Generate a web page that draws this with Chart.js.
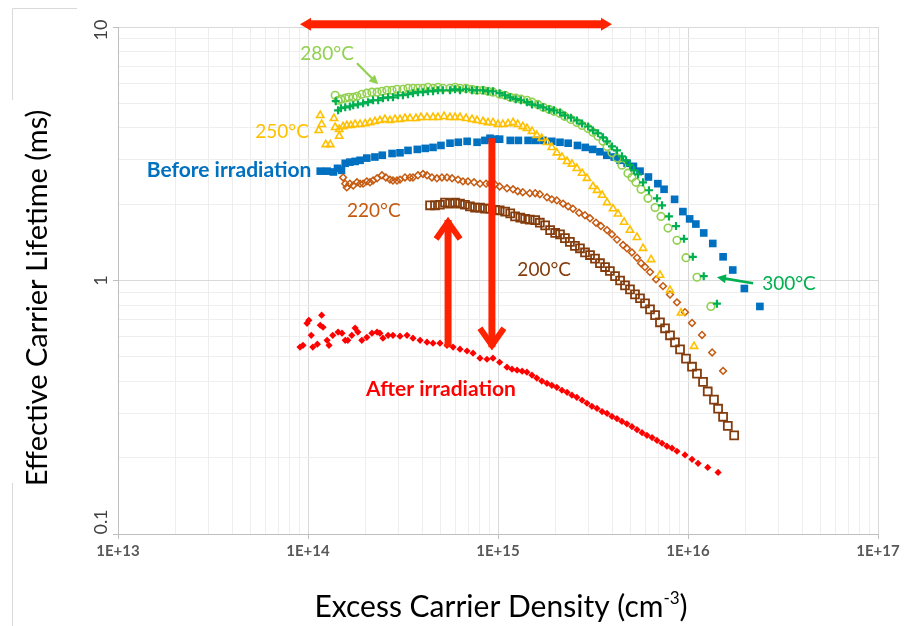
<!DOCTYPE html>
<html><head><meta charset="utf-8">
<script src="https://cdn.jsdelivr.net/npm/chart.js@4.4.1/dist/chart.umd.min.js"></script>
<style>html,body{margin:0;padding:0;background:#fff;}canvas{display:block;}</style>
</head><body>
<canvas id="c" width="904" height="626" style="width:904px;height:626px"></canvas>
<script>
// ---- axis ticks ----
const xDecades = [1e13, 1e14, 1e15, 1e16, 1e17];
const xTickLabels = ['1E+13', '1E+14', '1E+15', '1E+16', '1E+17'];
const yDecades = [0.1, 1, 10];
const yTickLabels = ['0.1', '1', '10'];
const minorSteps = [2, 3, 4, 5, 6, 7, 8, 9];

// ---- Before irradiation (blue squares) ----
const beforeX = [1.16e14,1.26e14,1.36e14,1.43e14,1.50e14,1.57e14,1.66e14,1.77e14,1.88e14,2.04e14,2.25e14,2.46e14,2.77e14,3.05e14,3.36e14,3.76e14,4.14e14,4.55e14,5.01e14,5.59e14,6.18e14,6.88e14,7.76e14,8.53e14,9.08e14,9.66e14,1.02e15,1.16e15,1.28e15,1.44e15,1.58e15,1.73e15,1.92e15,2.12e15,2.34e15,2.62e15,2.88e15,3.15e15,3.44e15,3.74e15,4.09e15,4.39e15,4.78e15,5.16e15,5.59e15,6.19e15,6.94e15,7.48e15,8.5e15,9.4e15,1.02e16,1.10e16,1.21e16,1.35e16,1.53e16,1.72e16,1.98e16,2.39e16];
const beforeY = [2.70,2.70,2.68,2.77,2.72,2.90,2.93,2.95,2.98,3.04,3.07,3.12,3.17,3.19,3.26,3.29,3.32,3.35,3.41,3.48,3.51,3.54,3.51,3.57,3.64,3.61,3.61,3.57,3.57,3.57,3.57,3.57,3.54,3.51,3.48,3.41,3.35,3.29,3.22,3.12,3.07,2.98,2.90,2.82,2.70,2.56,2.41,2.29,2.09,1.87,1.75,1.67,1.54,1.40,1.24,1.10,0.93,0.79];

// ---- 280 °C (light green circles) ----
const t280X = [1.39e14,1.44e14,1.49e14,1.57e14,1.64e14,1.73e14,1.81e14,1.92e14,2.04e14,2.17e14,2.31e14,2.45e14,2.60e14,2.77e14,2.94e14,3.16e14,3.36e14,3.57e14,3.79e14,4.03e14,4.28e14,4.55e14,4.83e14,5.13e14,5.59e14,5.94e14,6.31e14,6.79e14,7.30e14,7.75e14,8.34e14,8.86e14,9.41e14,1.02e15,1.09e15,1.16e15,1.24e15,1.32e15,1.42e15,1.51e15,1.62e15,1.73e15,1.86e15,1.97e15,2.12e15,2.25e15,2.42e15,2.60e15,2.77e15,2.98e15,3.16e15,3.36e15,3.57e15,3.75e15,3.98e15,4.23e15,4.49e15,4.83e15,5.07e15,5.32e15,5.66e15,6.16e15,6.71e15,7.21e15,7.85e15,8.75e15,9.76e15,1.115e16,1.32e16];
const t280Y = [5.38,5.14,5.19,5.24,5.28,5.28,5.33,5.43,5.48,5.53,5.53,5.58,5.63,5.63,5.68,5.68,5.73,5.73,5.73,5.73,5.78,5.73,5.78,5.73,5.73,5.78,5.73,5.73,5.68,5.63,5.63,5.58,5.53,5.43,5.38,5.28,5.24,5.19,5.14,5.05,4.95,4.82,4.73,4.65,4.56,4.44,4.32,4.20,4.09,3.98,3.84,3.71,3.54,3.38,3.19,3.04,2.85,2.65,2.55,2.44,2.29,2.11,1.94,1.79,1.61,1.44,1.23,1.03,0.79];

// ---- 300 °C (green crosses) ----
const t300X = [1.40e14,1.44e14,1.49e14,1.57e14,1.66e14,1.73e14,1.83e14,1.95e14,2.07e14,2.20e14,2.34e14,2.48e14,2.64e14,2.80e14,2.98e14,3.16e14,3.36e14,3.57e14,3.79e14,4.03e14,4.28e14,4.55e14,4.83e14,5.13e14,5.59e14,5.94e14,6.31e14,6.79e14,7.30e14,7.75e14,8.34e14,8.86e14,9.41e14,1.02e15,1.09e15,1.16e15,1.24e15,1.32e15,1.42e15,1.51e15,1.62e15,1.73e15,1.86e15,1.97e15,2.12e15,2.25e15,2.42e15,2.60e15,2.77e15,2.98e15,3.16e15,3.36e15,3.57e15,3.75e15,3.98e15,4.23e15,4.49e15,4.72e15,4.95e15,5.20e15,5.46e15,5.80e15,6.23e15,6.87e15,7.30e15,7.94e15,8.65e15,9.52e15,1.06e16,1.21e16,1.42e16];
const t300Y = [5.10,4.69,4.78,4.82,4.86,4.91,4.95,5.00,5.05,5.14,5.14,5.24,5.28,5.28,5.38,5.38,5.43,5.48,5.53,5.53,5.58,5.58,5.63,5.63,5.63,5.68,5.63,5.68,5.63,5.63,5.63,5.58,5.58,5.48,5.38,5.28,5.19,5.14,5.05,4.95,4.91,4.82,4.73,4.69,4.60,4.48,4.39,4.28,4.16,4.05,3.91,3.81,3.67,3.54,3.38,3.26,3.09,2.98,2.85,2.72,2.62,2.44,2.27,2.11,1.98,1.79,1.64,1.46,1.24,1.04,0.81];

// ---- 250 °C (yellow triangles) ----
const t250X = [1.16e14,1.18e14,1.14e14,1.24e14,1.31e14,1.37e14,1.39e14,1.46e14,1.46e14,1.53e14,1.60e14,1.68e14,1.77e14,1.88e14,2.00e14,2.12e14,2.25e14,2.39e14,2.54e14,2.70e14,2.87e14,3.05e14,3.24e14,3.44e14,3.70e14,3.93e14,4.23e14,4.55e14,4.83e14,5.20e14,5.59e14,5.94e14,6.31e14,6.79e14,7.30e14,7.75e14,8.34e14,8.86e14,9.41e14,1.00e15,1.06e15,1.13e15,1.20e15,1.27e15,1.35e15,1.42e15,1.51e15,1.60e15,1.70e15,1.81e15,1.92e15,2.04e15,2.17e15,2.31e15,2.45e15,2.60e15,2.77e15,2.94e15,3.16e15,3.32e15,3.53e15,3.75e15,4.03e15,4.28e15,4.61e15,4.95e15,5.39e15,5.80e15,6.39e15,7.12e15,8.04e15,9.19e15,1.076e16];
const t250Y = [4.48,4.13,3.91,3.44,3.44,4.36,4.02,3.95,3.71,4.05,4.09,4.09,4.13,4.13,4.16,4.20,4.24,4.28,4.32,4.28,4.32,4.32,4.36,4.36,4.36,4.40,4.40,4.40,4.40,4.44,4.40,4.40,4.40,4.36,4.32,4.28,4.24,4.20,4.20,4.13,4.13,4.16,4.20,4.13,4.05,3.98,3.88,3.74,3.64,3.51,3.35,3.19,3.07,2.95,2.88,2.77,2.65,2.53,2.35,2.27,2.17,2.03,1.92,1.83,1.70,1.58,1.48,1.34,1.21,1.05,0.915,0.745,0.55];

// ---- 220 °C (orange diamonds) ----
const t220X = [1.53e14,1.57e14,1.60e14,1.66e14,1.73e14,1.81e14,1.88e14,1.95e14,2.04e14,2.12e14,2.20e14,2.31e14,2.45e14,2.57e14,2.70e14,2.80e14,2.94e14,3.05e14,3.24e14,3.44e14,3.57e14,3.79e14,4.03e14,4.23e14,4.49e14,4.77e14,5.07e14,5.39e14,5.73e14,6.16e14,6.54e14,6.95e14,7.48e14,8.04e14,8.65e14,9.08e14,9.64e14,1.02e15,1.115e15,1.20e15,1.27e15,1.35e15,1.47e15,1.57e15,1.66e15,1.81e15,1.92e15,2.04e15,2.20e15,2.34e15,2.48e15,2.67e15,2.87e15,3.05e15,3.28e15,3.48e15,3.75e15,3.98e15,4.23e15,4.55e15,4.77e15,5.07e15,5.39e15,5.66e15,5.94e15,6.31e15,6.79e15,7.39e15,8.04e15,8.75e15,9.64e15,1.05e16,1.185e16,1.34e16,1.53e16];
const t220Y = [2.55,2.41,2.33,2.41,2.37,2.44,2.41,2.41,2.46,2.44,2.48,2.53,2.60,2.55,2.50,2.48,2.48,2.50,2.55,2.55,2.55,2.60,2.63,2.60,2.55,2.53,2.55,2.55,2.53,2.50,2.46,2.46,2.44,2.41,2.41,2.41,2.39,2.35,2.31,2.29,2.25,2.23,2.21,2.21,2.19,2.13,2.09,2.07,2.01,1.96,1.92,1.85,1.81,1.76,1.69,1.64,1.58,1.52,1.45,1.38,1.34,1.29,1.23,1.17,1.13,1.08,1.01,0.95,0.88,0.82,0.75,0.68,0.61,0.52,0.44];

// ---- 200 °C (brown squares) ----
const t200X = [4.39e14,4.66e14,4.95e14,5.26e14,5.59e14,5.94e14,6.31e14,6.70e14,7.12e14,7.57e14,8.04e14,8.54e14,9.08e14,9.64e14,1.02e15,1.09e15,1.16e15,1.23e15,1.31e15,1.39e15,1.47e15,1.57e15,1.66e15,1.77e15,1.88e15,2.00e15,2.12e15,2.25e15,2.39e15,2.54e15,2.70e15,2.87e15,3.05e15,3.24e15,3.44e15,3.66e15,3.88e15,4.13e15,4.39e15,4.66e15,4.95e15,5.26e15,5.59e15,5.94e15,6.31e15,6.71e15,7.12e15,7.57e15,8.04e15,8.54e15,9.08e15,9.76e15,1.05e16,1.115e16,1.20e16,1.27e16,1.37e16,1.44e16,1.53e16,1.62e16,1.75e16];
const t200Y = [1.98,1.98,1.99,2.03,2.01,2.03,2.01,1.99,1.96,1.94,1.94,1.92,1.92,1.90,1.89,1.87,1.84,1.79,1.77,1.75,1.74,1.73,1.69,1.65,1.58,1.54,1.52,1.47,1.42,1.37,1.34,1.29,1.26,1.22,1.17,1.13,1.09,1.04,1.00,0.957,0.923,0.882,0.851,0.812,0.769,0.730,0.684,0.648,0.608,0.570,0.535,0.492,0.457,0.429,0.398,0.365,0.339,0.312,0.290,0.267,0.245];

// ---- After irradiation (red diamonds) ----
const afterX = [9.08e13,9.41e13,9.88e13,1.01e14,1.04e14,1.06e14,1.12e14,1.16e14,1.18e14,1.20e14,1.26e14,1.29e14,1.35e14,1.44e14,1.51e14,1.57e14,1.62e14,1.70e14,1.77e14,1.83e14,1.92e14,2.04e14,2.17e14,2.31e14,2.39e14,2.48e14,2.64e14,2.80e14,3.05e14,3.32e14,3.57e14,3.89e14,4.23e14,4.55e14,4.95e14,5.39e14,5.80e14,6.31e14,6.87e14,7.39e14,8.04e14,8.75e14,9.41e14,1.02e15,1.115e15,1.185e15,1.26e15,1.34e15,1.42e15,1.51e15,1.60e15,1.70e15,1.81e15,1.92e15,2.04e15,2.17e15,2.31e15,2.45e15,2.60e15,2.77e15,2.94e15,3.12e15,3.32e15,3.53e15,3.75e15,3.98e15,4.23e15,4.49e15,4.77e15,5.07e15,5.39e15,5.73e15,6.08e15,6.47e15,6.87e15,7.30e15,7.75e15,8.24e15,8.75e15,9.64e15,1.05e16,1.13e16,1.27e16,1.44e16];
const afterY = [0.546,0.555,0.678,0.697,0.608,0.546,0.561,0.666,0.730,0.654,0.581,0.555,0.608,0.626,0.620,0.581,0.581,0.608,0.649,0.626,0.581,0.597,0.620,0.626,0.620,0.592,0.608,0.608,0.603,0.608,0.592,0.581,0.571,0.566,0.566,0.555,0.546,0.536,0.527,0.517,0.494,0.489,0.494,0.476,0.455,0.447,0.443,0.439,0.435,0.423,0.412,0.401,0.393,0.386,0.379,0.369,0.362,0.353,0.346,0.337,0.328,0.319,0.313,0.304,0.299,0.291,0.285,0.278,0.272,0.265,0.258,0.251,0.245,0.240,0.234,0.228,0.222,0.218,0.212,0.205,0.197,0.190,0.183,0.175];

// ---- annotation text & anchors (data coordinates) ----
const labelTexts = ['280°C', '250°C', 'Before irradiation', '220°C', '200°C', '300°C', 'After irradiation'];
const labelX = [1.26e14, 7.30e13, 3.84e13, 2.22e14, 1.75e15, 3.40e16, 5.01e14];
const labelY = [7.80, 3.84, 2.72, 1.875, 1.097, 0.966, 0.372];
const labelColors = ['#92d050', '#ffc000', '#0070c0', '#c55a11', '#843c0c', '#00b050', '#ff0000'];
const labelBold = [false, false, true, false, false, false, true];

const zip = (xs, ys) => xs.map((x, i) => ({ x: x, y: ys[i] }));
const isDecade = v => v > 0 && Math.abs(Math.log10(v) - Math.round(Math.log10(v))) < 1e-6;
const withMinors = decs => {
  const out = [];
  decs.forEach((d, i) => { out.push(d); if (i < decs.length - 1) minorSteps.forEach(m => out.push(d * m)); });
  return out;
};
const gridColor = c => (c.tick && isDecade(c.tick.value)) ? '#d9d9d9' : '#eeeeee';
const tickColor = c => (c.tick && isDecade(c.tick.value)) ? '#bfbfbf' : 'rgba(0,0,0,0)';

const FONT = 'Lato, "Open Sans", sans-serif';

function arrowHeadFilled(ctx, x1, y1, x2, y2, len, half) {
  const a = Math.atan2(y2 - y1, x2 - x1);
  ctx.beginPath();
  ctx.moveTo(x2, y2);
  ctx.lineTo(x2 - len * Math.cos(a) + half * Math.sin(a), y2 - len * Math.sin(a) - half * Math.cos(a));
  ctx.lineTo(x2 - len * Math.cos(a) - half * Math.sin(a), y2 - len * Math.sin(a) + half * Math.cos(a));
  ctx.closePath();
  ctx.fill();
}

const annot = {
  id: 'annot',
  afterDraw(chart) {
    const ctx = chart.ctx, xs = chart.scales.x, ys = chart.scales.y;
    const px = v => xs.getPixelForValue(v), py = v => ys.getPixelForValue(v);
    ctx.save();
    // faint outer frame remnants
    ctx.strokeStyle = '#d9d9d9'; ctx.lineWidth = 1;
    ctx.beginPath();
    ctx.moveTo(12.5, 100); ctx.lineTo(12.5, 8.5); ctx.lineTo(77, 8.5);
    ctx.moveTo(12.5, 483); ctx.lineTo(12.5, 626);
    ctx.stroke();

    // y tick labels (rotated); the bottom one sits just above the axis
    ctx.fillStyle = '#404040';
    ctx.font = '18px ' + FONT;
    ctx.textAlign = 'center'; ctx.textBaseline = 'middle';
    const yLabelShift = [-12, 0, 3];
    yDecades.forEach((v, i) => {
      ctx.save(); ctx.translate(101, py(v) + yLabelShift[i]); ctx.rotate(-Math.PI / 2);
      ctx.fillText(yTickLabels[i], 0, 0); ctx.restore();
    });

    // y axis title
    ctx.fillStyle = '#000';
    ctx.font = '29px ' + FONT;
    ctx.save(); ctx.translate(38, 298); ctx.rotate(-Math.PI / 2);
    ctx.fillText('Effective Carrier Lifetime (ms)', 0, 0); ctx.restore();

    // x axis title with superscript
    const main = 'Excess Carrier Density (cm', sup = '-3', tail = ')';
    ctx.font = '30px ' + FONT; const w1 = ctx.measureText(main).width, w3 = ctx.measureText(tail).width;
    ctx.font = '17px ' + FONT; const w2 = ctx.measureText(sup).width;
    let sx = 501 - (w1 + w2 + w3) / 2; const by = 617;
    ctx.textAlign = 'left'; ctx.textBaseline = 'alphabetic';
    ctx.font = '30px ' + FONT; ctx.fillText(main, sx, by);
    ctx.font = '17px ' + FONT; ctx.fillText(sup, sx + w1, by - 13);
    ctx.font = '30px ' + FONT; ctx.fillText(tail, sx + w1 + w2, by);

    // red arrows
    const red = '#ff2200';
    ctx.fillStyle = red; ctx.strokeStyle = red;
    // top double arrow
    const ax1 = px(9.08e13), ax2 = px(3.98e15), ay = py(10.25);
    ctx.fillRect(ax1 + 9, ay - 4, ax2 - ax1 - 18, 8);
    ctx.beginPath(); ctx.moveTo(ax1, ay); ctx.lineTo(ax1 + 11, ay - 6.5); ctx.lineTo(ax1 + 11, ay + 6.5); ctx.closePath(); ctx.fill();
    ctx.beginPath(); ctx.moveTo(ax2, ay); ctx.lineTo(ax2 - 11, ay - 6.5); ctx.lineTo(ax2 - 11, ay + 6.5); ctx.closePath(); ctx.fill();
    // vertical arrows
    const vArrow = (xv, yFrom, yTo) => {
      const x = px(xv), y1 = py(yFrom), y2 = py(yTo);
      const dir = y2 > y1 ? 1 : -1;
      ctx.lineWidth = 7; ctx.lineCap = 'butt';
      ctx.beginPath(); ctx.moveTo(x, y1); ctx.lineTo(x, y2 - dir * 3); ctx.stroke();
      ctx.lineWidth = 6; ctx.lineJoin = 'miter';
      ctx.beginPath();
      ctx.moveTo(x - 12, y2 - dir * 22); ctx.lineTo(x, y2 - dir * 5); ctx.lineTo(x + 12, y2 - dir * 22);
      ctx.stroke();
    };
    vArrow(5.46e14, 0.546, 1.78);
    vArrow(9.29e14, 3.64, 0.531);

    // green pointer arrows
    const thin = (x1v, y1v, x2v, y2v, col, lw) => {
      const x1 = px(x1v), y1 = py(y1v), x2 = px(x2v), y2 = py(y2v);
      ctx.strokeStyle = col; ctx.fillStyle = col; ctx.lineWidth = lw;
      const a = Math.atan2(y2 - y1, x2 - x1);
      ctx.beginPath(); ctx.moveTo(x1, y1); ctx.lineTo(x2 - 7 * Math.cos(a), y2 - 7 * Math.sin(a)); ctx.stroke();
      arrowHeadFilled(ctx, x1, y1, x2, y2, 9, 4.5);
    };
    thin(1.81e14, 7.19, 2.34e14, 5.94, '#92d050', 2.2);
    thin(2.20e16, 0.975, 1.42e16, 1.03, '#00b050', 2.6);

    // text labels
    ctx.textAlign = 'center'; ctx.textBaseline = 'middle';
    labelTexts.forEach((t, i) => {
      ctx.fillStyle = labelColors[i];
      ctx.font = (labelBold[i] ? 'bold 21px ' : '19px ') + FONT;
      ctx.fillText(t, px(labelX[i]), py(labelY[i]));
    });
    ctx.restore();
  }
};

const datasets = [
  { label: '300°C', data: zip(t300X, t300Y), pointStyle: 'cross', pointRadius: 4, borderWidth: 2.2, borderColor: '#00b050', backgroundColor: '#00b050' },
  { label: '280°C', data: zip(t280X, t280Y), pointStyle: 'circle', pointRadius: 3.8, borderWidth: 1.6, borderColor: '#92d050', backgroundColor: 'rgba(0,0,0,0)' },
  { label: '250°C', data: zip(t250X, t250Y), pointStyle: 'triangle', pointRadius: 4.2, borderWidth: 1.6, borderColor: '#ffc000', backgroundColor: 'rgba(0,0,0,0)' },
  { label: '220°C', data: zip(t220X, t220Y), pointStyle: 'rectRot', pointRadius: 3.4, borderWidth: 1.5, borderColor: '#c55a11', backgroundColor: 'rgba(0,0,0,0)' },
  { label: '200°C', data: zip(t200X, t200Y), pointStyle: 'rect', pointRadius: 5.6, borderWidth: 1.8, borderColor: '#843c0c', backgroundColor: 'rgba(0,0,0,0)' },
  { label: 'Before irradiation', data: zip(beforeX, beforeY), pointStyle: 'rect', pointRadius: 5.4, borderWidth: 0, borderColor: '#0070c0', backgroundColor: '#0070c0' },
  { label: 'After irradiation', data: zip(afterX, afterY), pointStyle: 'rectRot', pointRadius: 3.6, borderWidth: 0, borderColor: '#ff0000', backgroundColor: '#ff0000' }
];

new Chart(document.getElementById('c'), {
  type: 'scatter',
  data: { datasets: datasets },
  options: {
    responsive: false, animation: false, devicePixelRatio: 1,
    layout: { padding: { left: 0, right: 26, top: 27, bottom: 0 } },
    plugins: { legend: { display: false }, tooltip: { enabled: false } },
    scales: {
      x: {
        type: 'logarithmic', min: xDecades[0], max: xDecades[xDecades.length - 1],
        afterBuildTicks: s => { s.ticks = withMinors(xDecades).map(v => ({ value: v, major: isDecade(v) })); },
        afterFit: s => { s.height = 92; },
        ticks: {
          autoSkip: false, maxRotation: 0, minRotation: 0, padding: 3, color: '#595959',
          font: { family: FONT, size: 15, weight: 'bold' },
          callback: v => { const i = xDecades.findIndex(d => Math.abs(d - v) / d < 1e-6); return i >= 0 ? xTickLabels[i] : ''; }
        },
        grid: { color: gridColor, tickColor: tickColor, tickLength: 5, lineWidth: 1 },
        border: { color: '#bfbfbf' }
      },
      y: {
        type: 'logarithmic', min: yDecades[0], max: yDecades[yDecades.length - 1],
        afterBuildTicks: s => { s.ticks = withMinors(yDecades).map(v => ({ value: v, major: isDecade(v) })); },
        afterFit: s => { s.width = 118; },
        ticks: { display: false },
        grid: { color: gridColor, tickColor: tickColor, tickLength: 5, lineWidth: 1 },
        border: { color: '#bfbfbf' }
      }
    }
  },
  plugins: [annot]
});
</script>
</body></html>
